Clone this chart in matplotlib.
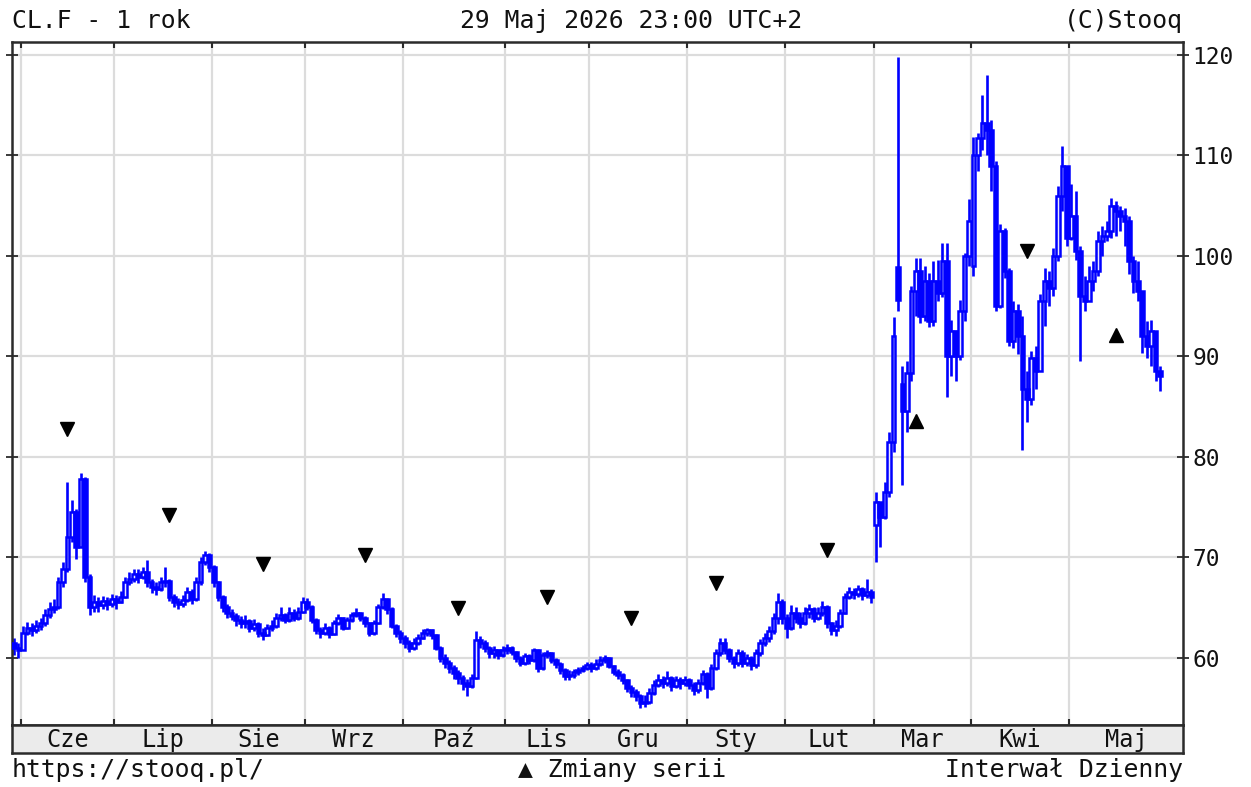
import numpy as np
import pandas as pd
import matplotlib
matplotlib.use('Agg')
import matplotlib.pyplot as plt

W, H = 1251, 787

# trading days shown (one year of daily bars)
holidays = ['2025-07-04', '2025-11-27', '2025-12-25']
dates = pd.bdate_range('2025-05-29', '2026-05-29')
dates = dates[~dates.isin(pd.to_datetime(holidays))]

month_names = ['Cze', 'Lip', 'Sie', 'Wrz', 'Paź', 'Lis', 'Gru',
               'Sty', 'Lut', 'Mar', 'Kwi', 'Maj']

close = [
    61.0, 60.8,  # maj
    62.5, 63.0, 62.8, 63.2, 63.5, 64.3, 64.8, 65.0, 67.5, 68.8, 72.0, 74.5, 71.0, 77.8, 68.0,
    65.0, 65.5, 65.2, 65.6, 65.3, 65.8,  # cze
    65.5, 66.0, 67.5, 67.8, 68.3, 68.0, 68.5, 67.5, 67.0, 66.8, 67.5, 67.6, 66.0, 65.5, 65.3,
    65.7, 66.5, 65.8, 67.5, 69.5, 70.2, 69.0,  # lip
    67.5, 66.0, 65.0, 64.5, 64.2, 63.8, 63.5, 63.7, 63.0, 63.4, 62.5, 62.3, 63.0, 63.2, 64.0,
    64.3, 63.8, 64.5, 64.0, 64.6, 65.5,  # sie
    65.0, 63.8, 62.8, 62.5, 63.0, 62.4, 63.5, 64.0, 63.0, 63.8, 64.3, 64.5, 64.0, 63.5, 62.5,
    63.5, 65.0, 65.8, 64.8, 63.2, 62.5, 62.0,  # wrz
    61.5, 61.0, 61.5, 62.0, 62.5, 62.8, 62.3, 61.0, 60.0, 59.5, 59.0, 58.5, 58.0, 57.5, 57.2,
    58.0, 61.8, 61.5, 61.0, 60.5, 60.8, 60.3, 60.8,  # paz
    61.0, 60.6, 60.0, 59.5, 60.2, 59.8, 60.8, 59.0, 60.3, 60.5, 59.8, 59.4, 58.8, 58.2, 58.3,
    58.6, 58.8, 59.0, 59.3,  # lis
    59.0, 59.4, 59.8, 60.0, 59.2, 58.6, 58.3, 57.8, 57.0, 56.6, 56.2, 55.5, 55.6, 56.5, 57.3,
    57.8, 57.5, 58.0, 57.2, 57.8, 57.5, 57.8,  # gru
    57.3, 56.8, 57.5, 58.4, 57.0, 59.0, 60.5, 61.5, 60.8, 60.0, 59.5, 60.5, 59.5, 60.0, 59.3,
    60.5, 61.5, 62.0, 62.7, 64.0, 65.5, 64.0,  # sty
    63.0, 64.5, 64.0, 63.5, 64.5, 64.8, 64.0, 64.5, 65.0, 63.5, 62.8, 63.2, 64.5, 66.0, 66.5,
    66.3, 66.8, 66.2, 66.5, 66.0,  # lut
    75.5, 74.0, 76.5, 81.5, 92.0, 95.6, 84.6, 88.3, 96.5, 98.5, 94.0, 97.5, 93.5, 97.5, 96.3,
    99.5, 90.0, 92.5, 90.0, 94.5, 100.0, 103.5,  # mar
    110.0, 111.7, 113.2, 112.5, 109.0, 95.0, 102.5, 98.5, 91.5, 94.5, 92.0, 86.8, 85.8, 89.8,
    88.5, 95.5, 97.5, 96.8, 100.0, 106.0, 109.0, 101.8,  # kwi
    104.0, 100.5, 96.0, 95.5, 97.5, 98.5, 101.5, 102.0, 102.5, 105.0, 104.5, 104.0, 103.5, 99.5,
    97.5, 96.5, 92.0, 91.0, 92.5, 88.5, 88.0,  # maj
]

high = [
    62.0, 61.5,
    63.2, 63.6, 63.5, 63.8, 64.0, 64.8, 65.5, 65.8, 68.0, 69.5, 77.5, 75.7, 74.8, 78.4, 78.0,
    68.3, 66.2, 66.0, 66.1, 66.0, 66.3,
    66.2, 66.6, 68.0, 68.5, 68.8, 68.8, 69.0, 69.7, 67.8, 67.5, 68.0, 69.0, 67.8, 66.3, 65.9,
    66.2, 67.0, 66.8, 68.0, 70.0, 70.6, 70.4,
    69.2, 67.6, 66.2, 65.3, 64.8, 64.5, 64.2, 64.3, 63.9, 63.9, 63.6, 63.0, 63.4, 63.8, 64.5,
    65.0, 64.5, 65.0, 64.8, 65.0, 66.0,
    65.9, 65.2, 64.0, 63.1, 63.5, 63.2, 63.8, 64.4, 64.1, 64.1, 64.6, 64.9, 64.6, 64.2, 63.6,
    63.8, 65.3, 66.4, 65.9, 65.0, 63.4, 62.8,
    62.3, 61.8, 62.0, 62.4, 62.9, 63.0, 62.9, 62.4, 61.2, 60.4, 59.8, 59.3, 58.8, 58.3, 57.9,
    58.4, 62.7, 62.2, 61.8, 61.2, 61.2, 60.9, 61.2,
    61.4, 61.2, 60.7, 60.2, 60.5, 60.4, 61.0, 60.9, 60.6, 60.8, 60.6, 60.0, 59.6, 59.0, 58.8,
    58.9, 59.1, 59.3, 59.6,
    59.6, 59.9, 60.2, 60.3, 60.1, 59.3, 58.9, 58.5, 57.9, 57.3, 56.9, 56.4, 56.3, 57.0, 57.8,
    58.4, 58.2, 58.7, 58.2, 58.2, 58.1, 58.2,
    58.0, 57.6, 57.9, 58.8, 58.6, 59.4, 60.9, 62.0, 62.0, 61.0, 60.2, 60.9, 60.8, 60.4, 60.2,
    60.9, 61.9, 62.5, 63.2, 64.5, 66.4, 65.8,
    64.4, 65.2, 65.0, 64.6, 65.0, 65.3, 65.0, 65.0, 65.6, 65.2, 63.6, 63.8, 64.8, 66.4, 67.0,
    66.9, 67.2, 67.0, 67.8, 66.8,
    76.5, 75.5, 77.5, 82.5, 93.9, 119.8, 89.0, 89.5, 97.0, 99.8, 99.8, 99.0, 98.3, 99.5, 99.6,
    101.3, 101.3, 93.6, 92.6, 95.6, 100.3, 105.7,
    111.8, 112.2, 116.0, 118.0, 113.5, 109.5, 103.2, 102.8, 98.8, 95.5, 95.2, 94.0, 88.5, 90.5,
    91.0, 96.2, 98.8, 98.5, 100.8, 107.0, 110.9, 107.5,
    107.2, 106.5, 101.0, 98.0, 99.0, 99.5, 102.5, 103.0, 103.5, 105.8, 105.5, 105.0, 104.8, 104.0,
    100.0, 99.5, 94.5, 93.5, 93.6, 91.0, 89.0,
]

low = [
    60.3, 60.0,
    61.0, 62.3, 62.2, 62.5, 62.8, 63.2, 64.0, 64.5, 64.8, 67.0, 68.5, 71.5, 69.8, 71.0, 67.5,
    64.3, 64.6, 64.6, 64.8, 64.7, 65.0,
    64.8, 65.4, 65.9, 67.2, 67.5, 67.4, 67.8, 67.0, 66.4, 66.2, 66.6, 67.0, 65.6, 65.0, 64.8,
    65.0, 65.5, 65.3, 65.6, 67.2, 69.2, 68.5,
    67.0, 65.6, 64.6, 64.0, 63.8, 63.2, 63.0, 63.0, 62.6, 62.7, 62.1, 61.8, 62.2, 62.7, 63.0,
    63.7, 63.5, 63.6, 63.7, 63.8, 64.5,
    64.7, 63.5, 62.4, 62.0, 62.3, 62.0, 62.3, 63.3, 62.8, 62.9, 63.6, 64.1, 63.7, 63.1, 62.2,
    62.3, 63.4, 64.8, 64.4, 63.0, 62.1, 61.5,
    61.0, 60.6, 60.8, 61.3, 61.9, 62.2, 61.9, 60.8, 59.6, 59.0, 58.5, 57.9, 57.4, 56.8, 56.2,
    57.0, 57.9, 61.0, 60.6, 60.0, 60.0, 59.9, 60.1,
    60.4, 60.3, 59.6, 59.2, 59.3, 59.4, 59.6, 58.6, 58.8, 60.0, 59.5, 59.0, 58.4, 57.8, 57.8,
    58.0, 58.3, 58.6, 58.8,
    58.6, 58.8, 59.2, 59.5, 59.0, 58.3, 57.9, 57.4, 56.6, 56.1, 55.7, 55.0, 55.1, 55.4, 56.3,
    57.1, 57.0, 57.2, 56.7, 57.0, 56.9, 57.2,
    56.9, 56.3, 56.5, 57.3, 56.0, 56.8, 58.8, 60.2, 60.4, 59.6, 59.0, 59.2, 59.1, 59.2, 58.8,
    59.0, 60.2, 61.2, 61.6, 62.4, 63.4, 63.4,
    62.0, 62.8, 63.5, 63.0, 63.3, 64.0, 63.6, 63.8, 64.2, 63.0, 62.3, 62.2, 63.0, 64.4, 65.8,
    65.8, 66.0, 65.7, 65.9, 65.4,
    69.5, 71.0, 73.8, 76.0, 80.5, 94.5, 77.2, 82.5, 87.5, 94.0, 93.3, 93.5, 92.9, 93.0, 95.5,
    95.9, 86.0, 88.0, 87.5, 89.6, 93.5, 99.0,
    98.0, 108.5, 110.5, 110.0, 106.5, 94.5, 94.8, 97.8, 91.0, 90.8, 90.2, 80.7, 83.5, 85.2,
    86.8, 88.5, 93.0, 95.0, 96.0, 99.5, 104.5, 101.0,
    101.6, 99.6, 89.5, 94.5, 95.5, 96.5, 98.0, 100.0, 101.5, 101.8, 102.0, 102.5, 101.0, 98.2,
    96.3, 95.5, 90.3, 89.8, 89.0, 87.5, 86.6,
]

# opens differ from the previous close only on these days
open_gaps = {'2025-05-29': 61.5, '2026-03-02': 73.2, '2026-03-09': 98.9,
             '2026-03-10': 87.3, '2026-04-01': 99.0}

# contract roll markers ("Zmiany serii")
roll_down_dates = ['2025-06-16', '2025-07-18', '2025-08-18', '2025-09-18', '2025-10-17',
                   '2025-11-14', '2025-12-12', '2026-01-09', '2026-02-13', '2026-04-17']
roll_down_vals = [82.8, 74.2, 69.3, 70.2, 64.9, 66.0, 64.0, 67.4, 70.7, 100.5]
roll_up_dates = ['2026-03-13', '2026-05-15']
roll_up_vals = [83.6, 92.1]

y_ticks = [60, 70, 80, 90, 100, 110, 120]

close = np.array(close)
high = np.array(high)
low = np.array(low)
n = len(dates)
idx = np.arange(n)
opn = np.r_[close[0], close[:-1]]
for d, v in open_gaps.items():
    opn[dates.get_loc(pd.Timestamp(d))] = v

# first bar of each month
month_start = [i for i in range(1, n) if dates[i].month != dates[i - 1].month]

blue = '#0000ff'
grid_c = '#dcdcdc'
frame_c = '#2b2b2b'
tc = '#111111'
mono = ['DejaVu Sans Mono', 'DejaVu Sans']

fig = plt.figure(figsize=(W / 100, H / 100), dpi=100)
fig.patch.set_facecolor('white')

left, right, top, bot = 12, 1183, 42, 725
x0 = (left - 14) / 4.442
x1 = (right - 14) / 4.442
ax = fig.add_axes([left / W, 1 - bot / H, (right - left) / W, (bot - top) / H])
ax.set_xlim(x0, x1)
ax.set_ylim(53.3, 121.3)

for y in y_ticks:
    ax.axhline(y, color=grid_c, lw=1.6, zorder=0)
for m in month_start:
    ax.axvline(m - 0.5, color=grid_c, lw=1.6, zorder=0)

# candles
lo_w = np.minimum(low, np.minimum(opn, close))
hi_w = np.maximum(high, np.maximum(opn, close))
ax.vlines(idx, lo_w, hi_w, color=blue, lw=1.9, zorder=2)
up = close >= opn
ax.bar(idx[up], (close - opn)[up], bottom=opn[up], width=0.8,
       facecolor='#e8e8ff', edgecolor=blue, linewidth=1.8, zorder=3)
ax.bar(idx[~up], (close - opn)[~up], bottom=opn[~up], width=0.8,
       facecolor=blue, edgecolor=blue, linewidth=1.8, zorder=3)

# roll markers
dpos = dates.get_indexer(pd.to_datetime(roll_down_dates))
upos = dates.get_indexer(pd.to_datetime(roll_up_dates))
ax.plot(dpos, roll_down_vals, 'v', color='black', ms=10.5, ls='none', zorder=4)
ax.plot(upos, roll_up_vals, '^', color='black', ms=10.5, ls='none', zorder=4)

ax.set_xticks([m - 0.5 for m in month_start])
ax.set_xticklabels([])
ax.tick_params(axis='x', top=True, bottom=True, direction='in', length=4, width=1.5,
               color=frame_c)
ax.set_yticks(y_ticks)
ax.tick_params(axis='y', left=True, right=True, labelleft=False, labelright=True,
               direction='inout', length=8, width=1.3, color=frame_c, pad=3,
               labelsize=16.5, labelcolor=tc)
for lab in ax.get_yticklabels():
    lab.set_family(mono)
for s in ax.spines.values():
    s.set_color(frame_c)
    s.set_linewidth(1.8)

# month band
band = fig.add_axes([left / W, 1 - 753 / H, (right - left) / W, (753 - bot) / H])
band.set_facecolor('#ebebeb')
band.set_xlim(x0, x1)
band.set_ylim(0, 1)
band.set_xticks([])
band.set_yticks([])
for s in band.spines.values():
    s.set_color(frame_c)
    s.set_linewidth(1.8)
edges = month_start + [x1 + 0.5]
for k, name in enumerate(month_names):
    cx = (edges[k] + edges[k + 1]) / 2 - 0.5
    band.text(cx, 0.45, name, ha='center', va='center', fontsize=17,
              family=mono, color=tc)

fs = 17.8
fig.text(12 / W, 1 - 21 / H, 'CL.F - 1 rok', ha='left', va='center',
         fontsize=fs, family=mono, color=tc)
fig.text(631 / W, 1 - 21 / H, '29 Maj 2026 23:00 UTC+2', ha='center', va='center',
         fontsize=fs, family=mono, color=tc)
fig.text(1183 / W, 1 - 21 / H, '(C)Stooq', ha='right', va='center',
         fontsize=fs, family=mono, color=tc)
fig.text(12 / W, 1 - 770 / H, 'https://stooq.pl/', ha='left', va='center',
         fontsize=fs, family=mono, color=tc)
fig.text(622 / W, 1 - 770 / H, '▲ Zmiany serii', ha='center', va='center',
         fontsize=fs, family=mono, color=tc)
fig.text(1183 / W, 1 - 770 / H, 'Interwał Dzienny', ha='right', va='center',
         fontsize=fs, family=mono, color=tc)

fig.savefig('out.png', dpi=100, facecolor='white')
